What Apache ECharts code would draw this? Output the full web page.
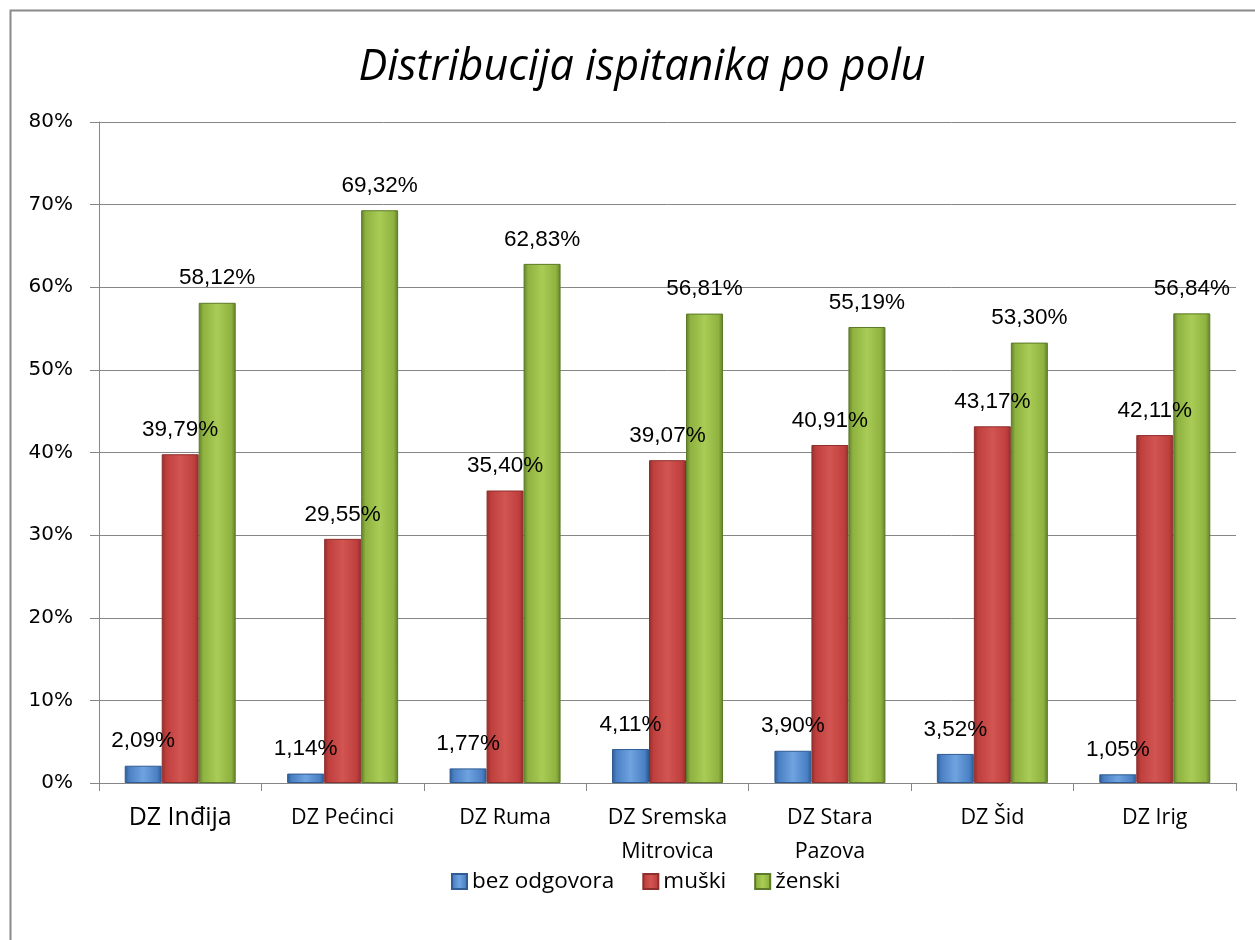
<!DOCTYPE html>
<html>
<head>
<meta charset="utf-8">
<script src="https://cdn.jsdelivr.net/npm/echarts@6/dist/echarts.min.js"></script>
<style>
  html, body { margin: 0; padding: 0; background: #fff; }
  #chart { width: 1255px; height: 940px; }
</style>
</head>
<body>
<div id="chart"></div>
<script>
// podaci sa slike
const categories = ['DZ Inđija', 'DZ Pećinci', 'DZ Ruma', 'DZ Sremska\nMitrovica', 'DZ Stara\nPazova', 'DZ Šid', 'DZ Irig']
const bezOdgovora = [2.09, 1.14, 1.77, 4.11, 3.90, 3.52, 1.05]
const muski = [39.79, 29.55, 35.40, 39.07, 40.91, 43.17, 42.11]
const zenski = [58.12, 69.32, 62.83, 56.81, 55.19, 53.30, 56.84]
const yTicks = { min: 0, max: 80, interval: 10 }

const chart = echarts.init(document.getElementById('chart'))

// Excel-ov "bevel" izgled: tamnije ivice, svetlija sredina
const bevel = (dark, mid, light) => new echarts.graphic.LinearGradient(0, 0, 1, 0, [
  { offset: 0, color: dark },
  { offset: 0.12, color: mid },
  { offset: 0.5, color: light },
  { offset: 0.88, color: mid },
  { offset: 1, color: dark }
])

const fmt = v => v.toFixed(2).replace('.', ',') + '%'

const makeSeries = (name, data, fill, border) => ({
  name,
  type: 'bar',
  data,
  barWidth: 37,
  barGap: '0%',
  itemStyle: { color: fill, borderColor: border, borderWidth: 1 },
  label: {
    show: true,
    position: 'top',
    distance: 13,
    fontFamily: 'Liberation Sans',
    fontSize: 22.5,
    color: '#000',
    formatter: p => fmt(p.value)
  }
})

chart.setOption({
  animation: false,
  graphic: [{
    type: 'rect',
    shape: { x: 10.5, y: 10.5, width: 1400, height: 1100 },
    style: { fill: 'none', stroke: '#8a8a8a', lineWidth: 2 },
    silent: true
  }],
  title: {
    text: 'Distribucija ispitanika po polu',
    left: 637,
    textAlign: 'center',
    top: 41,
    textStyle: { fontFamily: 'Open Sans', fontStyle: 'italic', fontWeight: 'normal', fontSize: 43, color: '#000' }
  },
  legend: {
    bottom: 42,
    left: 446,
    itemWidth: 15,
    itemHeight: 15,
    itemGap: 28,
    icon: 'rect',
    textStyle: { fontFamily: 'Open Sans', fontSize: 22.5, color: '#000' },
    data: ['bez odgovora', 'muški', 'ženski']
  },
  grid: { left: 99, right: 19, top: 122, bottom: 157 },
  xAxis: {
    type: 'category',
    data: categories,
    axisLine: { lineStyle: { color: '#868686', width: 1 } },
    axisTick: { show: true, length: 8, alignWithLabel: false, lineStyle: { color: '#868686' } },
    axisLabel: {
      margin: 18,
      interval: 0,
      color: '#000',
      fontFamily: 'Open Sans',
      fontSize: 21.5,
      lineHeight: 34,
      formatter: (v, i) => i === 0 ? '{big|' + v + '}' : v,
      rich: { big: { fontFamily: 'Open Sans', fontSize: 25, lineHeight: 34, color: '#000' } }
    }
  },
  yAxis: {
    type: 'value',
    ...yTicks,
    axisLine: { show: true, lineStyle: { color: '#868686', width: 1 } },
    axisTick: { show: true, length: 9, lineStyle: { color: '#868686' } },
    splitLine: { lineStyle: { color: '#868686', width: 1 } },
    axisLabel: {
      margin: 26,
      color: '#000',
      fontFamily: 'DejaVu Sans',
      fontSize: 20,
      formatter: '{value}%'
    }
  },
  series: [
    makeSeries('bez odgovora', bezOdgovora, bevel('#2b5a94', '#4a80c4', '#6fa3e0'), '#2f5c93'),
    makeSeries('muški', muski, bevel('#8f2e2c', '#bf3f3d', '#d25552'), '#8f2f2d'),
    makeSeries('ženski', zenski, bevel('#5f7f2a', '#8fb240', '#a8cc55'), '#5c7a27')
  ]
})
</script>
</body>
</html>
